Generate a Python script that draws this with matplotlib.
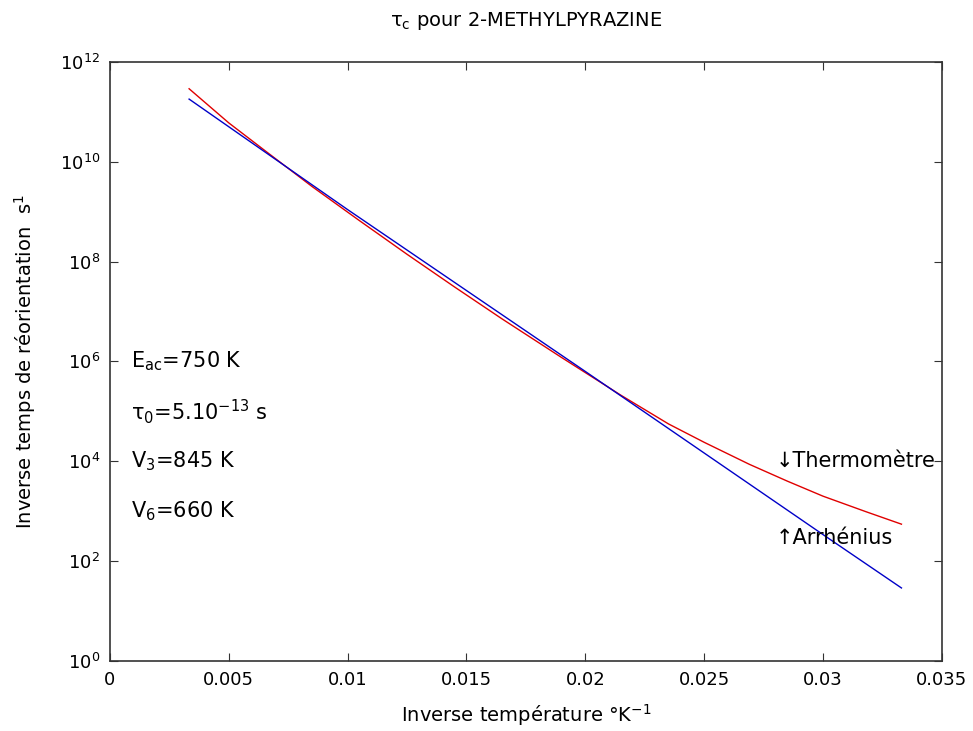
import matplotlib
matplotlib.use("Agg")
import matplotlib.pyplot as plt
import numpy as np

plt.rcParams['font.family'] = ['DejaVu Sans']
plt.rcParams['mathtext.fontset'] = 'dejavusans'

# Inverse temperature (1/K) and inverse reorientation time (1/s)
x_thermo = [0.00333, 0.005, 0.0065, 0.0085, 0.0105, 0.0125, 0.0145, 0.0165, 0.019,
            0.0215, 0.0235, 0.025, 0.0269, 0.0285, 0.030, 0.0318, 0.0333]
y_thermo = [2.9e11, 6.0e10, 1.7e10, 3.2e9, 6.6e8, 1.4e8, 3.1e7, 7.1e6, 1.2e6,
            2.1e5, 5.6e4, 2.4e4, 8.7e3, 4.0e3, 2.0e3, 9.8e2, 5.5e2]

x_arrh = [0.00333, 0.01, 0.02, 0.03, 0.0333]
y_arrh = [1.8e11, 1.1e9, 6.3e5, 3.4e2, 29]

params = [r'E$_\mathrm{ac}$=750 K', r'$\mathrm{\tau}_0$=5.10$^{-13}$ s', r'V$_3$=845 K', r'V$_6$=660 K']
params_y = [1e6, 1e5, 1e4, 1e3]

xticks = [0, 0.005, 0.01, 0.015, 0.02, 0.025, 0.03, 0.035]
xticklabels = ['0', '0.005', '0.01', '0.015', '0.02', '0.025', '0.03', '0.035']
yticks = [1e0, 1e2, 1e4, 1e6, 1e8, 1e10, 1e12]

fig = plt.figure(figsize=(9.73, 7.31), dpi=100)
ax = fig.add_axes([0.113, 0.0958, 0.855, 0.8195])

ax.semilogy(x_thermo, y_thermo, color='#e00000', lw=1)
ax.semilogy(x_arrh, y_arrh, color='#0000c8', lw=1)

ax.set_xlim(0, 0.035)
ax.set_ylim(1, 1e12)
ax.set_xticks(xticks)
ax.set_xticklabels(xticklabels)
ax.set_yticks(yticks)
ax.yaxis.set_minor_locator(matplotlib.ticker.NullLocator())
ax.tick_params(direction='in', top=True, right=True, labelsize=13, length=6,
               color='#333333', pad=7)
for s in ax.spines.values():
    s.set_color('#333333')
    s.set_linewidth(1.2)

for t, yv in zip(params, params_y):
    ax.text(0.0009, yv, t, fontsize=15, va='center')

ax.text(0.0280, 1e4, '\u2193Thermomètre', fontsize=15, va='center')
ax.text(0.0280, 2.9e2, '\u2191Arrhénius', fontsize=15, va='center')

ax.set_title(r'$\mathrm{\tau}_\mathrm{c}$ pour 2-METHYLPYRAZINE', fontsize=14, pad=26)
ax.set_xlabel('Inverse température °K$^{-1}$', fontsize=14, labelpad=10)
ax.set_ylabel('Inverse temps de réorientation  s$^{1}$', fontsize=14, labelpad=16)

fig.savefig('out.png', dpi=100)
